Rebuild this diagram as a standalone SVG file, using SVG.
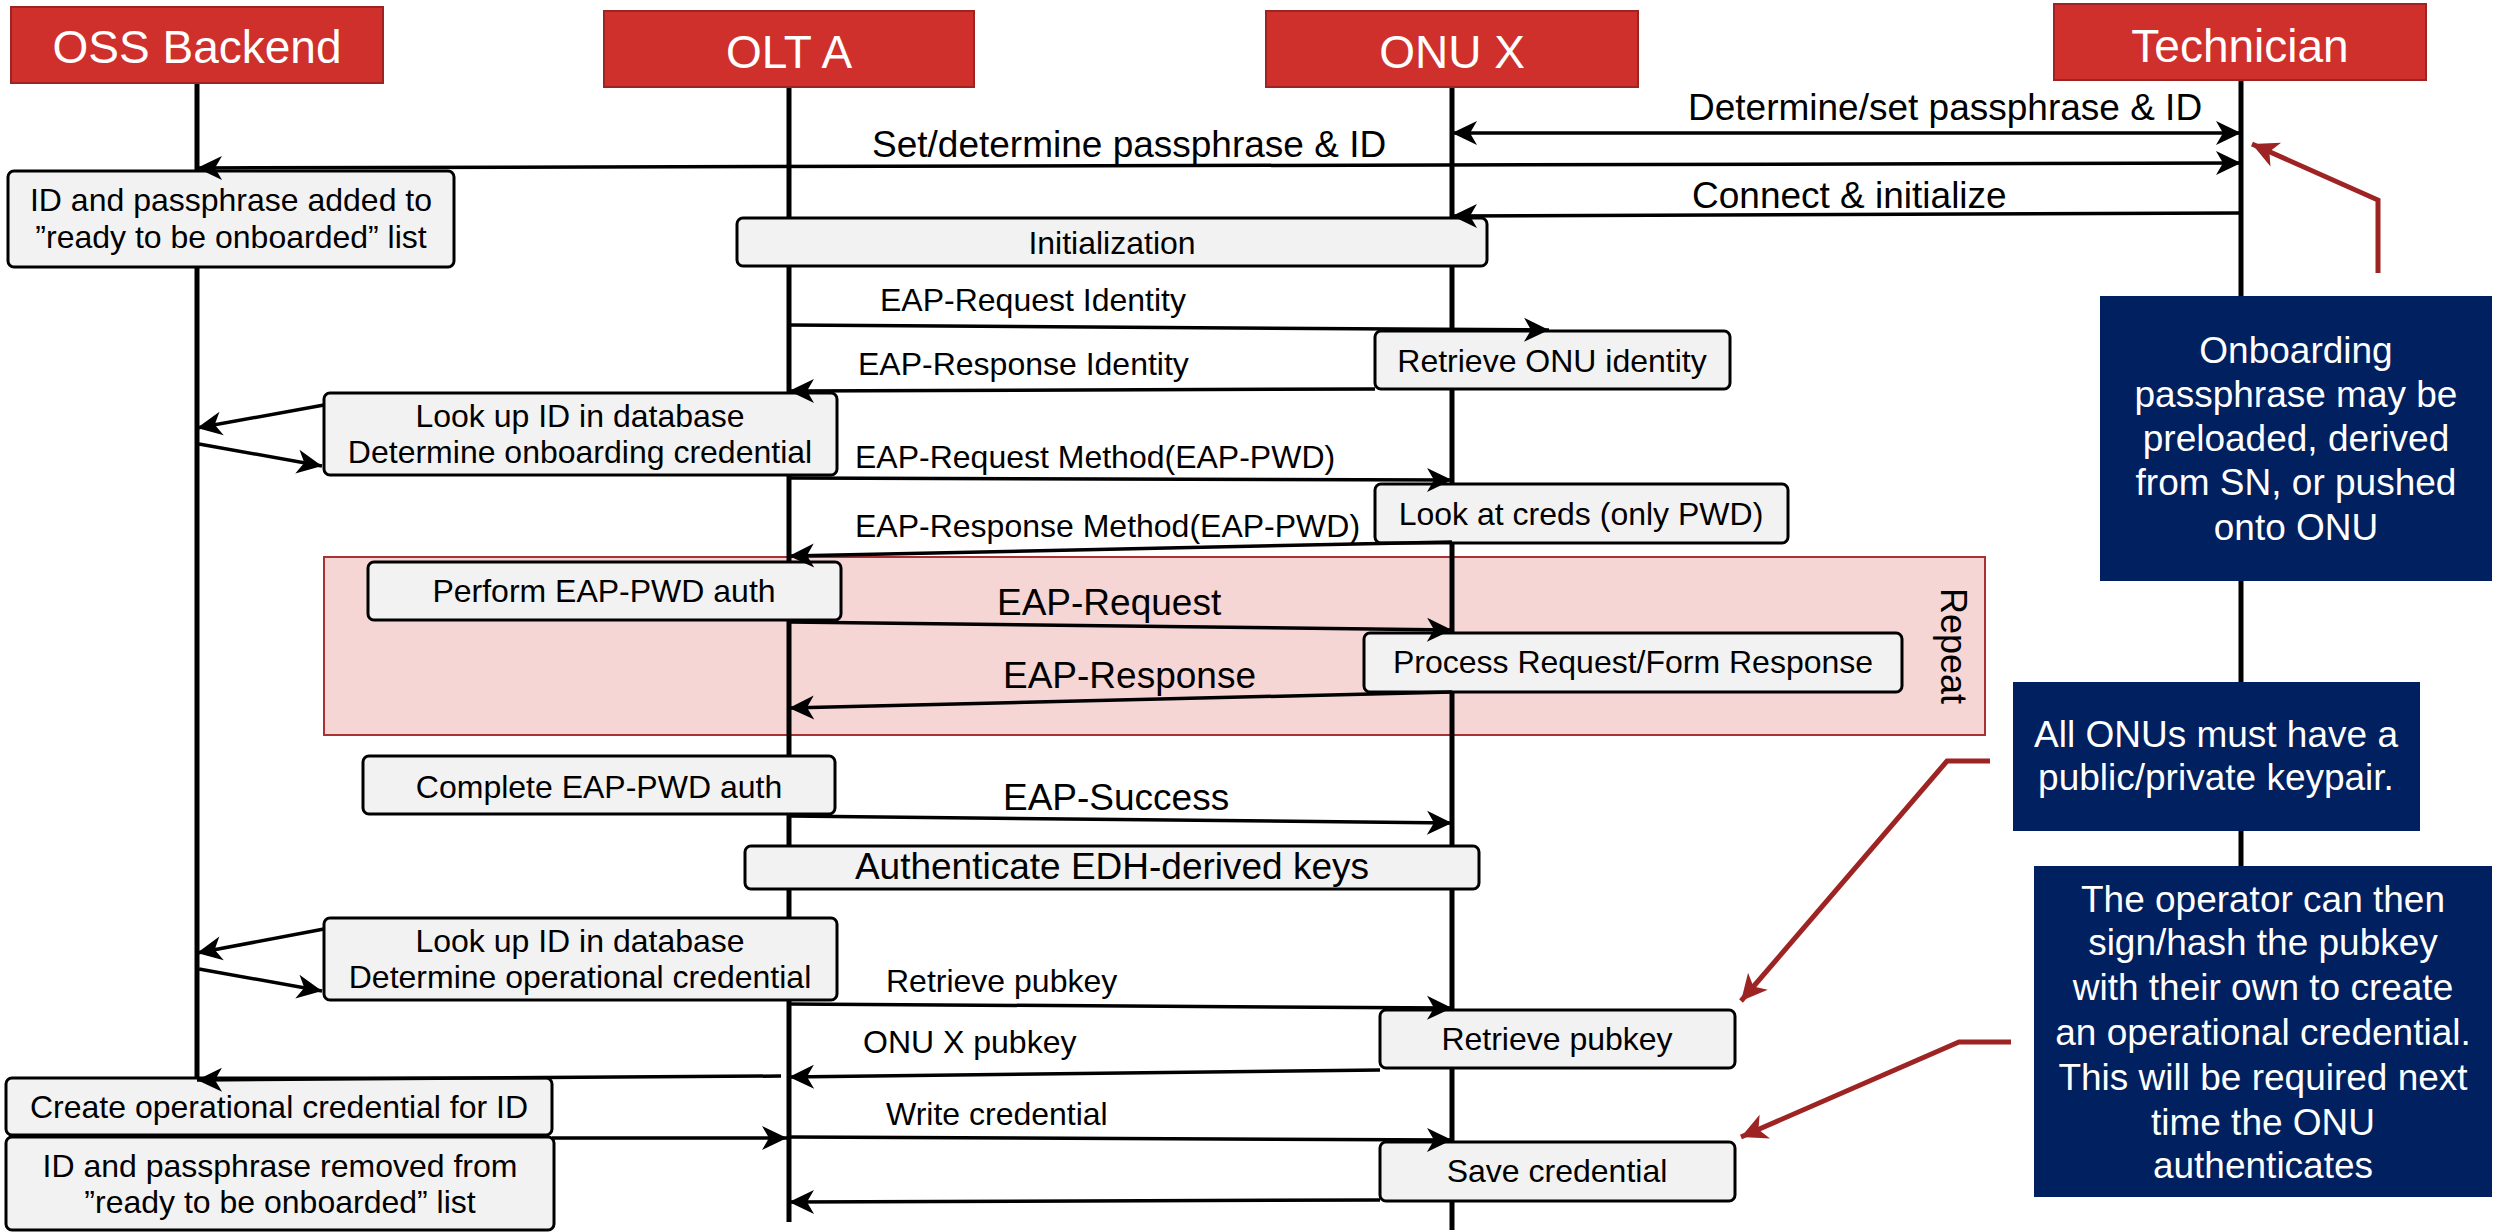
<svg xmlns="http://www.w3.org/2000/svg" width="2496" height="1232" viewBox="0 0 2496 1232">
<style>
text{font-family:"Liberation Sans",Arial,sans-serif;fill:#000}
.hdr{fill:#d0302c;stroke:#9e2323;stroke-width:2}
.hdrt{font-size:46px;fill:#fff;text-anchor:middle}
.life{stroke:#000;stroke-width:5;fill:none}
.box{fill:#f2f2f2;stroke:#000;stroke-width:3}
.bt{font-size:32px;text-anchor:middle}
.lbl{font-size:32px}
.big{font-size:37px}
.msg{stroke:#000;stroke-width:3.5;fill:none;marker-end:url(#ah)}
.dbl{marker-start:url(#ah)}
.note{fill:#002060}
.nt{font-size:37px;fill:#fff;text-anchor:middle}
.call{stroke:#9e2424;stroke-width:5;fill:none;marker-end:url(#rah)}
</style>
<defs>
<marker id="ah" markerUnits="userSpaceOnUse" markerWidth="30" markerHeight="30" refX="25" refY="12" orient="auto-start-reverse" overflow="visible">
<path d="M0,0 L25,12 L0,24 L7,12 Z" fill="#000"/>
</marker>
<marker id="rah" markerUnits="userSpaceOnUse" markerWidth="32" markerHeight="32" refX="26" refY="13" orient="auto" overflow="visible">
<path d="M0,0 L26,13 L0,26 L7,13 Z" fill="#9e2424"/>
</marker>
</defs>
<rect width="2496" height="1232" fill="#fff"/>

<g id="repeat-frame">
<rect x="324" y="557" width="1661" height="178" fill="#f6d5d5" stroke="#a83232" stroke-width="2"/>
<text class="big" transform="translate(1941,646) rotate(90)" text-anchor="middle" style="font-size:36px">Repeat</text>
</g>

<g id="lifelines">
<line class="life" x1="197" y1="83" x2="197" y2="1080"/>
<line class="life" x1="789" y1="87" x2="789" y2="1222"/>
<line class="life" x1="1452" y1="87" x2="1452" y2="1230"/>
<line class="life" x1="2241" y1="80" x2="2241" y2="866"/>
</g>

<g id="oss-backend"><rect class="hdr" x="11" y="7" width="372" height="76"/><text class="hdrt" x="197" y="63">OSS Backend</text></g>
<g id="olt-a"><rect class="hdr" x="604" y="11" width="370" height="76"/><text class="hdrt" x="789" y="68">OLT A</text></g>
<g id="onu-x"><rect class="hdr" x="1266" y="11" width="372" height="76"/><text class="hdrt" x="1452" y="68">ONU X</text></g>
<g id="technician"><rect class="hdr" x="2054" y="4" width="372" height="76"/><text class="hdrt" x="2240" y="62">Technician</text></g>

<g id="id-added"><rect class="box" x="8" y="171" width="446" height="96" rx="6"/><text class="bt" x="231" y="211">ID and passphrase added to</text><text class="bt" x="231" y="248">”ready to be onboarded” list</text></g>
<g id="initialization"><rect class="box" x="737" y="218" width="750" height="48" rx="6"/><text class="bt" x="1112" y="254">Initialization</text></g>
<g id="retrieve-onu-identity"><rect class="box" x="1375" y="331" width="355" height="58" rx="6"/><text class="bt" x="1552" y="372">Retrieve ONU identity</text></g>
<g id="lookup-onboarding"><rect class="box" x="324" y="393" width="513" height="82" rx="6"/><text class="bt" x="580" y="427">Look up ID in database</text><text class="bt" x="580" y="463">Determine onboarding credential</text></g>
<g id="look-at-creds"><rect class="box" x="1375" y="484" width="413" height="59" rx="6"/><text class="bt" x="1581" y="525">Look at creds (only PWD)</text></g>
<g id="perform-eap-pwd"><rect class="box" x="368" y="562" width="473" height="58" rx="6"/><text class="bt" x="604" y="602">Perform EAP-PWD auth</text></g>
<g id="process-request"><rect class="box" x="1364" y="633" width="538" height="59" rx="6"/><text class="bt" x="1633" y="673">Process Request/Form Response</text></g>
<g id="complete-eap-pwd"><rect class="box" x="363" y="756" width="472" height="58" rx="6"/><text class="bt" x="599" y="798">Complete EAP-PWD auth</text></g>
<g id="authenticate-edh"><rect class="box" x="745" y="846" width="734" height="43" rx="6"/><text class="bt" x="1112" y="879" style="font-size:37px">Authenticate EDH-derived keys</text></g>
<g id="lookup-operational"><rect class="box" x="324" y="918" width="513" height="82" rx="6"/><text class="bt" x="580" y="952">Look up ID in database</text><text class="bt" x="580" y="988">Determine operational credential</text></g>
<g id="retrieve-pubkey-box"><rect class="box" x="1380" y="1010" width="355" height="58" rx="6"/><text class="bt" x="1557" y="1050">Retrieve pubkey</text></g>
<g id="create-credential"><rect class="box" x="6" y="1078" width="546" height="57" rx="6"/><text class="bt" x="279" y="1118">Create operational credential for ID</text></g>
<g id="id-removed"><rect class="box" x="6" y="1137" width="548" height="93" rx="6"/><text class="bt" x="280" y="1177">ID and passphrase removed from</text><text class="bt" x="280" y="1213">”ready to be onboarded” list</text></g>
<g id="save-credential"><rect class="box" x="1380" y="1142" width="355" height="59" rx="6"/><text class="bt" x="1557" y="1182">Save credential</text></g>

<g id="connectors">
<line class="msg dbl" x1="1452" y1="133" x2="2241" y2="133"/>
<line class="msg dbl" x1="197" y1="168" x2="2241" y2="163"/>
<line class="msg" x1="2241" y1="213" x2="1452" y2="216"/>
<line class="msg" x1="789" y1="325" x2="1549" y2="330"/>
<line class="msg" x1="1375" y1="389" x2="789" y2="391"/>
<line class="msg" x1="324" y1="405" x2="197" y2="428"/>
<line class="msg" x1="199" y1="444" x2="322" y2="466"/>
<line class="msg" x1="789" y1="478" x2="1452" y2="480"/>
<line class="msg" x1="1452" y1="542" x2="789" y2="556"/>
<line class="msg" x1="789" y1="622" x2="1452" y2="630"/>
<line class="msg" x1="1452" y1="692" x2="789" y2="708"/>
<line class="msg" x1="789" y1="816" x2="1452" y2="823"/>
<line class="msg" x1="324" y1="929" x2="197" y2="953"/>
<line class="msg" x1="199" y1="969" x2="322" y2="991"/>
<line class="msg" x1="789" y1="1004" x2="1452" y2="1008"/>
<line class="msg" x1="1380" y1="1070" x2="789" y2="1077"/>
<line class="msg" x1="781" y1="1076" x2="197" y2="1080"/>
<line class="msg" x1="552" y1="1138" x2="787" y2="1138"/>
<line class="msg" x1="789" y1="1137" x2="1452" y2="1140"/>
<line class="msg" x1="1380" y1="1200" x2="789" y2="1202"/>
<polyline class="call" points="2378,273 2378,200 2252,144"/>
<polyline class="call" points="1990,761 1947,761 1741,1001"/>
<polyline class="call" points="2011,1042 1959,1042 1741,1137"/>
</g>

<g id="labels">
<text class="big" x="1688" y="120">Determine/set passphrase &amp; ID</text>
<text class="big" x="872" y="157">Set/determine passphrase &amp; ID</text>
<text class="big" x="1692" y="208">Connect &amp; initialize</text>
<text class="lbl" x="880" y="311">EAP-Request Identity</text>
<text class="lbl" x="858" y="375">EAP-Response Identity</text>
<text class="lbl" x="855" y="468">EAP-Request Method(EAP-PWD)</text>
<text class="lbl" x="855" y="537">EAP-Response Method(EAP-PWD)</text>
<text class="big" x="997" y="615">EAP-Request</text>
<text class="big" x="1003" y="688">EAP-Response</text>
<text class="big" x="1003" y="810">EAP-Success</text>
<text class="lbl" x="886" y="992">Retrieve pubkey</text>
<text class="lbl" x="863" y="1053">ONU X pubkey</text>
<text class="lbl" x="886" y="1125">Write credential</text>
</g>

<g id="note-onboarding">
<rect class="note" x="2100" y="296" width="392" height="285"/>
<text class="nt" x="2296" y="363">Onboarding</text>
<text class="nt" x="2296" y="407">passphrase may be</text>
<text class="nt" x="2296" y="451">preloaded, derived</text>
<text class="nt" x="2296" y="495">from SN, or pushed</text>
<text class="nt" x="2296" y="540">onto ONU</text>
</g>
<g id="note-keypair">
<rect class="note" x="2013" y="682" width="407" height="149"/>
<text class="nt" x="2216" y="747">All ONUs must have a</text>
<text class="nt" x="2216" y="790">public/private keypair.</text>
</g>
<g id="note-operator">
<rect class="note" x="2034" y="866" width="458" height="331"/>
<text class="nt" x="2263" y="912">The operator can then</text>
<text class="nt" x="2263" y="955">sign/hash the pubkey</text>
<text class="nt" x="2263" y="1000">with their own to create</text>
<text class="nt" x="2263" y="1045">an operational credential.</text>
<text class="nt" x="2263" y="1090">This will be required next</text>
<text class="nt" x="2263" y="1135">time the ONU</text>
<text class="nt" x="2263" y="1178">authenticates</text>
</g>
</svg>
